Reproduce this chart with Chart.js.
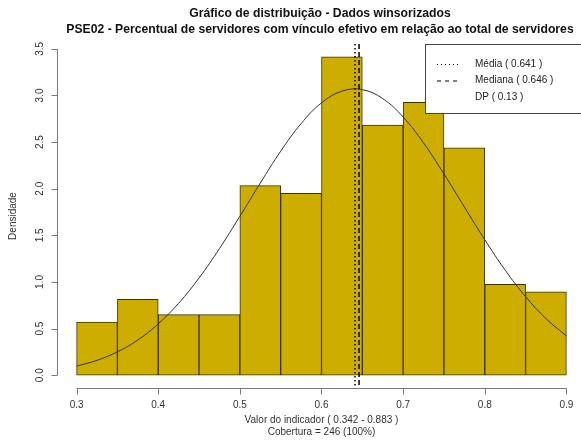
<!DOCTYPE html>
<html><head><meta charset="utf-8">
<script src="https://cdn.jsdelivr.net/npm/chart.js@4/dist/chart.umd.min.js"></script>
<style>html,body{margin:0;padding:0;background:#fff;overflow:hidden;width:581px;height:441px}canvas{display:block}</style>
</head><body>
<canvas id="c" width="600" height="441"></canvas>
<script>
// ---- data ----
const binEdges = [0.30, 0.35, 0.40, 0.45, 0.50, 0.55, 0.60, 0.65, 0.70, 0.75, 0.80, 0.85, 0.90];
const densities = [0.569, 0.813, 0.650, 0.650, 2.033, 1.951, 3.415, 2.683, 2.927, 2.439, 0.976, 0.894];
const curveX = [0.300, 0.325, 0.350, 0.375, 0.400, 0.425, 0.450, 0.475, 0.500, 0.525, 0.550, 0.575, 0.600,
                0.625, 0.650, 0.675, 0.700, 0.725, 0.750, 0.775, 0.800, 0.825, 0.850, 0.875, 0.900];
const curveY = [0.098, 0.160, 0.251, 0.378, 0.551, 0.772, 1.043, 1.358, 1.704, 2.061, 2.402, 2.698, 2.920,
                3.046, 3.062, 2.966, 2.769, 2.491, 2.159, 1.804, 1.453, 1.127, 0.843, 0.607, 0.422];
const xTickValues = [0.3, 0.4, 0.5, 0.6, 0.7, 0.8, 0.9];
const xTickLabels = ['0.3', '0.4', '0.5', '0.6', '0.7', '0.8', '0.9'];
const yTickValues = [0, 0.5, 1.0, 1.5, 2.0, 2.5, 3.0, 3.5];
const yTickLabels = ['0.0', '0.5', '1.0', '1.5', '2.0', '2.5', '3.0', '3.5'];
const meanValue = 0.641;
const medianValue = 0.646;
const titleLines = ['Gráfico de distribuição - Dados winsorizados',
  'PSE02 - Percentual de servidores com vínculo efetivo em relação ao total de servidores'];
const xLabelLines = ['Valor do indicador ( 0.342 - 0.883 )', 'Cobertura = 246 (100%)'];
const yLabel = 'Densidade';
const legendLabels = ['Média ( 0.641 )', 'Mediana ( 0.646 )', 'DP ( 0.13 )'];

// ---- chart ----
const FONT = '"Liberation Sans", Arial, sans-serif';
const decor = {
  id: 'decor',
  afterDatasetsDraw(chart) {
    const ctx = chart.ctx, a = chart.chartArea;
    const xs = chart.scales.x;
    ctx.save();
    // mean / median lines
    ctx.strokeStyle = '#000';
    ctx.lineWidth = 1.5;
    let px = xs.getPixelForValue(meanValue);
    ctx.setLineDash([1.5, 2.5]);
    ctx.beginPath(); ctx.moveTo(px, a.top); ctx.lineTo(px, a.bottom); ctx.stroke();
    px = xs.getPixelForValue(medianValue);
    ctx.setLineDash([5, 3]);
    ctx.beginPath(); ctx.moveTo(px, a.top); ctx.lineTo(px, a.bottom); ctx.stroke();
    ctx.setLineDash([]);

    // legend
    const lx = 425.5, ly = a.top + 0.5, lw = 200, lh = 69;
    ctx.fillStyle = '#fff';
    ctx.fillRect(lx, ly, lw, lh);
    ctx.strokeStyle = '#444';
    ctx.lineWidth = 1;
    ctx.strokeRect(lx, ly, lw, lh);
    ctx.font = '10px ' + FONT;
    ctx.fillStyle = '#222';
    ctx.textAlign = 'left';
    ctx.textBaseline = 'middle';
    const rows = [64, 80.5, 97];
    ctx.strokeStyle = '#000';
    ctx.setLineDash([1, 3]);
    ctx.beginPath(); ctx.moveTo(437, rows[0] + 0.5); ctx.lineTo(461, rows[0] + 0.5); ctx.stroke();
    ctx.setLineDash([4, 4]);
    ctx.beginPath(); ctx.moveTo(437, rows[1] + 0.5); ctx.lineTo(461, rows[1] + 0.5); ctx.stroke();
    ctx.setLineDash([]);
    legendLabels.forEach((t, i) => ctx.fillText(t, 475, rows[i]));
    ctx.restore();
  },
  afterDraw(chart) {
    const ctx = chart.ctx, a = chart.chartArea;
    const xs = chart.scales.x, ys = chart.scales.y;
    ctx.save();
    ctx.strokeStyle = '#7a7a7a';
    ctx.lineWidth = 1;
    // x axis
    const axY = Math.round(a.bottom) + 0.5;
    const x0 = xs.getPixelForValue(xTickValues[0]), x1 = xs.getPixelForValue(xTickValues[xTickValues.length - 1]);
    ctx.beginPath(); ctx.moveTo(x0, axY); ctx.lineTo(x1, axY); ctx.stroke();
    xTickValues.forEach(v => {
      const p = Math.round(xs.getPixelForValue(v)) + 0.5;
      ctx.beginPath(); ctx.moveTo(p, axY); ctx.lineTo(p, axY + 6); ctx.stroke();
    });
    // y axis
    const axX = Math.round(a.left) + 0.5;
    const y0 = ys.getPixelForValue(yTickValues[0]), y1 = ys.getPixelForValue(yTickValues[yTickValues.length - 1]);
    ctx.beginPath(); ctx.moveTo(axX, y0); ctx.lineTo(axX, y1); ctx.stroke();
    yTickValues.forEach(v => {
      const p = Math.round(ys.getPixelForValue(v)) + 0.5;
      ctx.beginPath(); ctx.moveTo(axX, p); ctx.lineTo(axX - 6, p); ctx.stroke();
    });
    // tick labels
    ctx.fillStyle = '#333';
    ctx.font = '10px ' + FONT;
    ctx.textAlign = 'center';
    ctx.textBaseline = 'middle';
    xTickValues.forEach((v, i) => ctx.fillText(xTickLabels[i], xs.getPixelForValue(v), 405));
    yTickValues.forEach((v, i) => {
      ctx.save();
      ctx.translate(40, ys.getPixelForValue(v));
      ctx.rotate(-Math.PI / 2);
      ctx.fillText(yTickLabels[i], 0, 0);
      ctx.restore();
    });
    // axis titles
    const cx = (a.left + a.right) / 2;
    ctx.fillText(xLabelLines[0], cx, 420);
    ctx.fillText(xLabelLines[1], cx, 432);
    ctx.save();
    ctx.translate(13, (a.top + a.bottom) / 2);
    ctx.rotate(-Math.PI / 2);
    ctx.fillText(yLabel, 0, 0);
    ctx.restore();
    // titles
    ctx.fillStyle = '#111';
    ctx.font = 'bold 12.2px ' + FONT;
    ctx.fillText(titleLines[0], cx - 1.5, 14);
    ctx.fillText(titleLines[1], cx - 1.5, 30);
    ctx.restore();
  }
};

new Chart(document.getElementById('c').getContext('2d'), {
  type: 'bar',
  data: {
    datasets: [
      {
        type: 'bar',
        data: densities.map((d, i) => ({ x: (binEdges[i] + binEdges[i + 1]) / 2, y: d })),
        backgroundColor: '#CDAD00',
        borderColor: '#3d3400',
        borderWidth: 1,
        borderSkipped: false,
        barPercentage: 1,
        categoryPercentage: 1,
        order: 2
      },
      {
        type: 'line',
        data: curveX.map((x, i) => ({ x: x, y: curveY[i] })),
        borderColor: '#333',
        borderWidth: 1,
        pointRadius: 0,
        tension: 0.4,
        fill: false,
        order: 1
      }
    ]
  },
  options: {
    responsive: false,
    animation: false,
    devicePixelRatio: 1,
    layout: { padding: { left: 57, top: 44, right: 14, bottom: 53 } },
    plugins: { legend: { display: false }, tooltip: { enabled: false } },
    scales: {
      x: { type: 'linear', min: 0.276, max: 0.924, display: false, offset: false },
      y: { type: 'linear', min: -0.1366, max: 3.5516, display: false }
    }
  },
  plugins: [decor]
});
</script>
</body></html>
